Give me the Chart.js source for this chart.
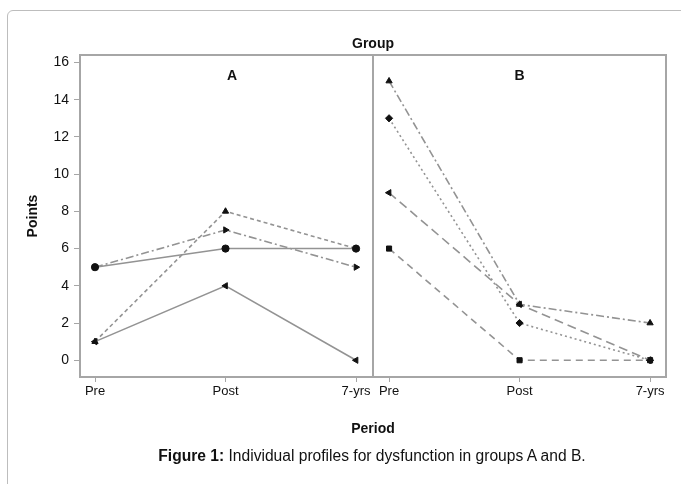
<!DOCTYPE html>
<html>
<head>
<meta charset="utf-8">
<script src="https://cdn.jsdelivr.net/npm/chart.js@4.4.1/dist/chart.umd.min.js"></script>
<style>
  body { margin: 0; background: #fff; font-family: "Liberation Sans", Arial, sans-serif; }
  #wrap { position: relative; width: 681px; height: 484px; overflow: hidden; }
  #frame { position: absolute; left: 7px; top: 10px; width: 720px; height: 520px;
           border: 1px solid #bdbdbd; border-radius: 6px; }
  #chart { position: absolute; left: 0; top: 0; }
  #caption { position: absolute; left: 0; width: 744px; top: 447px; text-align: center;
             font-size: 15.6px; color: #111; }
</style>
</head>
<body>
<div id="wrap">
  <div id="frame"></div>
  <canvas id="chart" width="681" height="484"></canvas>
  <div id="caption"><b>Figure 1:</b> Individual profiles for dysfunction in groups A and B.</div>
</div>
<script>
// periods and tick labels
const periods = ['Pre', 'Post', '7-yrs'];
const yTicks = [0, 2, 4, 6, 8, 10, 12, 14, 16];
const groups = ['A', 'B'];

// group A profiles
const a1 = [5, 6, 6];
const a2 = [1, 4, 0];
const a3 = [1, 8, 6];
const a4 = [5, 7, 5];

// group B profiles
const b1 = [15, 3, 2];
const b2 = [13, 2, 0];
const b3 = [9, 3, 0];
const b4 = [6, 0, 0];

// panel B starts a little after panel A on the shared x scale
const bOffset = 2.253;
const panelEdge = 2.128;

function pts(vals, off) {
    return vals.map((v, i) => ({ x: off + i, y: v }));
}

function series(vals, off, dash, style, rot) {
    return {
        data: pts(vals, off),
        borderColor: '#939393',
        borderWidth: 1.6,
        borderDash: dash,
        pointStyle: style,
        pointRotation: rot || 0,
        pointRadius: 3.6,
        pointBackgroundColor: '#111',
        pointBorderColor: '#111',
        pointBorderWidth: 1,
        fill: false,
        tension: 0
    };
}

const datasets = [
    series(a1, 0, [], 'circle'),
    series(a2, 0, [], 'triangle', -90),
    series(a3, 0, [4, 3], 'triangle'),
    series(a4, 0, [8, 3, 2, 3], 'triangle', 90),
    series(b1, bOffset, [8, 3, 2, 3], 'triangle'),
    series(b2, bOffset, [2, 3], 'rectRot'),
    series(b3, bOffset, [9, 5], 'triangle', -90),
    series(b4, bOffset, [7, 5], 'rect')
];

const xTickVals = [0, 1, 2, bOffset, bOffset + 1, bOffset + 2];

// frame, divider and panel labels
const panelPlugin = {
    id: 'panels',
    afterDatasetsDraw(chart) {
        const { ctx, chartArea: a, scales: { x, y } } = chart;
        ctx.save();
        ctx.strokeStyle = '#a6a6a6';
        ctx.lineWidth = 2;
        ctx.beginPath();
        ctx.moveTo(a.left, a.top);
        ctx.lineTo(a.right, a.top);
        ctx.lineTo(a.right, a.bottom);
        const dx = Math.round(x.getPixelForValue(panelEdge));
        ctx.moveTo(dx, a.top);
        ctx.lineTo(dx, a.bottom);
        ctx.stroke();

        ctx.fillStyle = '#111';
        ctx.font = 'bold 14px "Liberation Sans", Arial, sans-serif';
        ctx.textAlign = 'center';
        ctx.textBaseline = 'middle';
        ctx.fillText('Group', (a.left + a.right) / 2, 44);
        ctx.fillText(groups[0], x.getPixelForValue(1.05), 76);
        ctx.fillText(groups[1], x.getPixelForValue(bOffset + 1), 76);
        ctx.restore();
    }
};

new Chart(document.getElementById('chart'), {
    type: 'line',
    data: { datasets: datasets },
    options: {
        responsive: false,
        animation: false,
        devicePixelRatio: 1,
        layout: { padding: { left: 0, right: 15, top: 55, bottom: 40 } },
        plugins: { legend: { display: false }, tooltip: { enabled: false } },
        scales: {
            x: {
                type: 'linear',
                min: -0.115,
                max: 4.375,
                afterFit(s) { s.height = 67; },
                afterBuildTicks(s) { s.ticks = xTickVals.map(v => ({ value: v })); },
                ticks: {
                    autoSkip: false,
                    maxRotation: 0,
                    padding: 2,
                    color: '#111',
                    font: { family: '"Liberation Sans", Arial, sans-serif', size: 13 },
                    callback: (v, i) => periods[i % 3]
                },
                grid: { drawOnChartArea: false, drawTicks: true, tickLength: 5, color: '#a6a6a6' },
                border: { color: '#a6a6a6', width: 2 },
                title: {
                    display: true,
                    text: 'Period',
                    color: '#111',
                    padding: { top: 0, bottom: 6 },
                    font: { family: '"Liberation Sans", Arial, sans-serif', size: 14, weight: 'bold' }
                }
            },
            y: {
                min: -0.9,
                max: 16.4,
                afterFit(s) { s.width = 80; },
                afterBuildTicks(s) { s.ticks = yTicks.map(v => ({ value: v })); },
                ticks: {
                    padding: 5,
                    color: '#111',
                    font: { family: '"Liberation Sans", Arial, sans-serif', size: 14 }
                },
                grid: { drawOnChartArea: false, drawTicks: true, tickLength: 6, color: '#a6a6a6' },
                border: { color: '#a6a6a6', width: 2 },
                title: {
                    display: true,
                    text: 'Points',
                    color: '#111',
                    padding: { top: 25, bottom: 0 },
                    font: { family: '"Liberation Sans", Arial, sans-serif', size: 14, weight: 'bold' }
                }
            }
        }
    },
    plugins: [panelPlugin]
});
</script>
</body>
</html>
